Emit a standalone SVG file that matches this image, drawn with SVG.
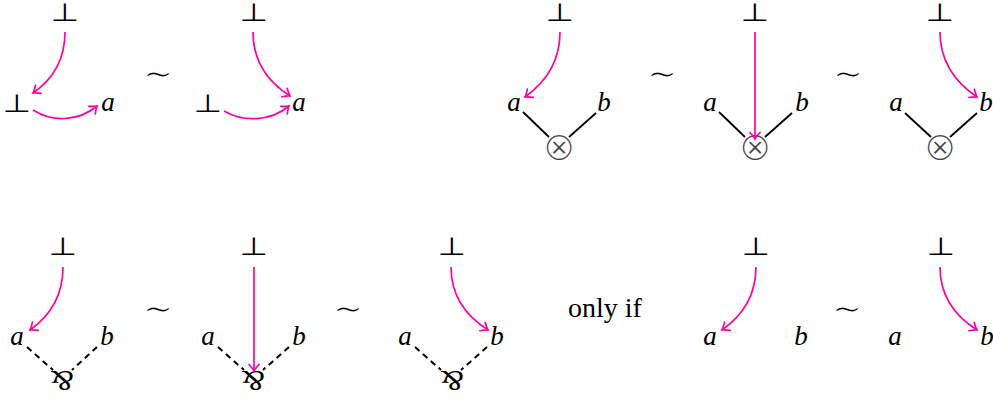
<svg xmlns="http://www.w3.org/2000/svg" width="993" height="399" viewBox="0 0 993 399">
<style>
.v{font-style:italic;font-size:27px;text-anchor:middle;fill:#000}
.s{font-size:25px;text-anchor:middle;fill:#000}
.t{font-size:36px;text-anchor:middle;fill:#000;stroke:#fff;stroke-width:1.2}
.o{font-size:40px;text-anchor:middle;fill:#444;stroke:#fff;stroke-width:1.4}
.p{font-size:30px;text-anchor:middle;fill:#000}
.r{font-size:28px;text-anchor:middle;fill:#000}
.ar{fill:none;stroke:#ff00a8;stroke-width:1.7;marker-end:url(#ah)}
.ln{stroke:#000;stroke-width:1.8}
.ds{stroke:#000;stroke-width:2;stroke-dasharray:6 4.5}
</style>
<defs>
<marker id="ah" markerUnits="userSpaceOnUse" markerWidth="14" markerHeight="14" viewBox="-8 -7 10 14" refX="0" refY="0" orient="auto">
<path d="M-6.5,-5 Q-2,-1 0,0 Q-2,1 -6.5,5" fill="none" stroke="#ff00a8" stroke-width="1.7" stroke-linecap="round"/>
</marker>
</defs>

<g id="d1" font-family="Liberation Serif, serif">
<text class="s" font-family="DejaVu Sans, sans-serif" transform="translate(65 21) scale(1.3 1)">⊥</text>
<text class="s" font-family="DejaVu Sans, sans-serif" transform="translate(17 112) scale(1.3 1)">⊥</text>
<text class="v" x="108" y="111">a</text>
</g>
<g id="sim1" font-family="DejaVu Sans, sans-serif"><text class="t" x="158" y="86">∼</text></g>
<g id="d2" font-family="Liberation Serif, serif">
<text class="s" font-family="DejaVu Sans, sans-serif" transform="translate(254 21) scale(1.3 1)">⊥</text>
<text class="s" font-family="DejaVu Sans, sans-serif" transform="translate(208 112) scale(1.3 1)">⊥</text>
<text class="v" x="299" y="111">a</text>
</g>

<g id="d3" font-family="Liberation Serif, serif">
<text class="s" font-family="DejaVu Sans, sans-serif" transform="translate(560 21) scale(1.3 1)">⊥</text>
<text class="v" x="514" y="111">a</text>
<text class="v" x="604" y="111">b</text>
<text class="o" font-family="DejaVu Sans, sans-serif" x="559" y="160">⊗</text>
</g>
<g id="sim2" font-family="DejaVu Sans, sans-serif"><text class="t" x="662" y="86">∼</text></g>
<g id="d4" font-family="Liberation Serif, serif">
<text class="s" font-family="DejaVu Sans, sans-serif" transform="translate(755 21) scale(1.3 1)">⊥</text>
<text class="v" x="710" y="111">a</text>
<text class="v" x="802" y="111">b</text>
<text class="o" font-family="DejaVu Sans, sans-serif" x="755" y="160">⊗</text>
</g>
<g id="sim3" font-family="DejaVu Sans, sans-serif"><text class="t" x="848" y="86">∼</text></g>
<g id="d5" font-family="Liberation Serif, serif">
<text class="s" font-family="DejaVu Sans, sans-serif" transform="translate(940 21) scale(1.3 1)">⊥</text>
<text class="v" x="896" y="111">a</text>
<text class="v" x="986" y="111">b</text>
<text class="o" font-family="DejaVu Sans, sans-serif" x="940" y="160">⊗</text>
</g>

<g id="d6" font-family="Liberation Serif, serif">
<text class="s" font-family="DejaVu Sans, sans-serif" transform="translate(63 255) scale(1.3 1)">⊥</text>
<text class="v" x="17" y="345">a</text>
<text class="v" x="107" y="345">b</text>
<text class="p" x="62" y="391" transform="rotate(180 62 381)">&amp;</text>
</g>
<g id="sim4" font-family="DejaVu Sans, sans-serif"><text class="t" x="158" y="321">∼</text></g>
<g id="d7" font-family="Liberation Serif, serif">
<text class="s" font-family="DejaVu Sans, sans-serif" transform="translate(254 255) scale(1.3 1)">⊥</text>
<text class="v" x="208" y="345">a</text>
<text class="v" x="299" y="345">b</text>
<text class="p" x="253" y="391" transform="rotate(180 253 381)">&amp;</text>
</g>
<g id="sim5" font-family="DejaVu Sans, sans-serif"><text class="t" x="348" y="321">∼</text></g>
<g id="d8" font-family="Liberation Serif, serif">
<text class="s" font-family="DejaVu Sans, sans-serif" transform="translate(452 255) scale(1.3 1)">⊥</text>
<text class="v" x="405" y="345">a</text>
<text class="v" x="497" y="345">b</text>
<text class="p" x="452" y="391" transform="rotate(180 452 381)">&amp;</text>
</g>
<g id="onlyif" font-family="Liberation Serif, serif"><text class="r" x="605" y="317">only if</text></g>
<g id="d9" font-family="Liberation Serif, serif">
<text class="s" font-family="DejaVu Sans, sans-serif" transform="translate(756 255) scale(1.3 1)">⊥</text>
<text class="v" x="710" y="345">a</text>
<text class="v" x="801" y="345">b</text>
</g>
<g id="sim6" font-family="DejaVu Sans, sans-serif"><text class="t" x="847" y="321">∼</text></g>
<g id="d10" font-family="Liberation Serif, serif">
<text class="s" font-family="DejaVu Sans, sans-serif" transform="translate(941 255) scale(1.3 1)">⊥</text>
<text class="v" x="895" y="345">a</text>
<text class="v" x="987" y="345">b</text>
</g>

<g id="connectors">
<path class="ar" d="M65,32 C65,62 52,80 33,93"/>
<path class="ar" d="M33,110 C52,122 78,122 97,106"/>
<path class="ar" d="M253,32 C253,62 268,82 290,96"/>
<path class="ar" d="M224,111 C243,122 270,122 289,106"/>
<path class="ar" d="M560,32 C560,62 546,82 525,97"/>
<line class="ln" x1="523" y1="112" x2="549" y2="137"/>
<line class="ln" x1="569" y1="137" x2="596" y2="113"/>
<path class="ar" d="M755,32 L755,139"/>
<line class="ln" x1="719" y1="112" x2="745" y2="137"/>
<line class="ln" x1="765" y1="137" x2="792" y2="113"/>
<path class="ar" d="M940,32 C940,62 955,82 977,97"/>
<line class="ln" x1="905" y1="113" x2="931" y2="137"/>
<line class="ln" x1="950" y1="137" x2="977" y2="113"/>

<path class="ar" d="M63,267 C63,297 50,316 30,330"/>
<line class="ds" x1="27" y1="347" x2="53" y2="370"/>
<line class="ds" x1="97" y1="347" x2="72" y2="370"/>
<path class="ar" d="M254,267 L254,371"/>
<line class="ds" x1="218" y1="347" x2="244" y2="370"/>
<line class="ds" x1="289" y1="347" x2="263" y2="370"/>
<path class="ar" d="M451,267 C451,297 466,316 488,330"/>
<line class="ds" x1="415" y1="347" x2="441" y2="370"/>
<line class="ds" x1="487" y1="347" x2="461" y2="370"/>
<path class="ar" d="M756,267 C756,297 742,316 722,330"/>
<path class="ar" d="M940,267 C940,297 955,316 977,330"/>
</g>
</svg>
